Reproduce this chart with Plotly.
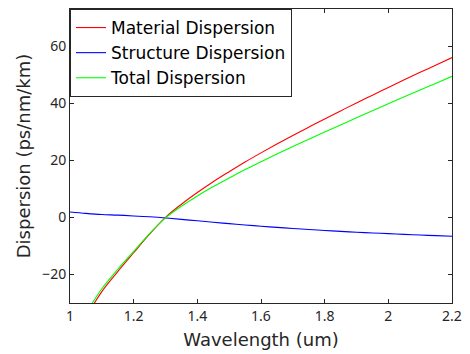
import plotly.graph_objects as go

wavelength = [1.0, 1.05, 1.1, 1.15, 1.2, 1.25, 1.3, 1.35, 1.4, 1.45, 1.5, 1.55, 1.6, 1.65, 1.7,
              1.75, 1.8, 1.85, 1.9, 1.95, 2.0, 2.05, 2.1, 2.15, 2.2]
material = [-45, -35, -26.0, -19.0, -12.4, -5.9, 0.0, 4.6, 8.7, 12.5, 16.0, 19.4, 22.6, 25.7, 28.7,
            31.6, 34.5, 37.3, 40.1, 42.8, 45.5, 48.2, 50.8, 53.4, 56.0]
structure = [1.9, 1.4, 1.0, 0.8, 0.5, 0.2, -0.2, -0.7, -1.2, -1.7, -2.2, -2.65, -3.1, -3.5, -3.9,
             -4.25, -4.6, -4.9, -5.2, -5.45, -5.7, -5.95, -6.2, -6.4, -6.6]
total = [-43.1, -33.6, -25.0, -18.2, -11.9, -5.7, -0.2, 3.9, 7.5, 10.8, 13.8, 16.75, 19.5, 22.2, 24.8,
         27.35, 29.9, 32.4, 34.9, 37.35, 39.8, 42.25, 44.6, 47.0, 49.4]

x_ticks = [1, 1.2, 1.4, 1.6, 1.8, 2, 2.2]
x_ticktext = ["1", "1.2", "1.4", "1.6", "1.8", "2", "2.2"]
y_ticks = [-20, 0, 20, 40, 60]
y_ticktext = ["\u221220", "0", "20", "40", "60"]

TICKFONT = "Noto Sans, sans-serif"
WIDEFONT = "DejaVu Sans, sans-serif"
AX = "#262626"

fig = go.Figure()
fig.add_trace(go.Scatter(x=wavelength, y=material, mode="lines", name="Material Dispersion",
                         line=dict(color="rgb(255,0,0)", width=1.1, shape="spline")))
fig.add_trace(go.Scatter(x=wavelength, y=structure, mode="lines", name="Structure Dispersion",
                         line=dict(color="rgb(0,0,255)", width=1.1, shape="spline")))
fig.add_trace(go.Scatter(x=wavelength, y=total, mode="lines", name="Total Dispersion",
                         line=dict(color="rgb(0,255,0)", width=1.1, shape="spline")))

fig.update_layout(
    width=470, height=354,
    margin=dict(l=70, r=15, t=8, b=51),
    paper_bgcolor="white", plot_bgcolor="white",
    font=dict(family=TICKFONT, color=AX),
    showlegend=True,
    legend=dict(x=0, y=1, xanchor="left", yanchor="top",
                bgcolor="white", bordercolor=AX, borderwidth=1,
                font=dict(family=WIDEFONT, size=17, color="black"),
                tracegroupgap=0, itemwidth=30),
    xaxis=dict(range=[1, 2.2], tickvals=x_ticks, ticktext=x_ticktext,
               ticks="inside", ticklen=4, tickcolor=AX, mirror="ticks",
               showline=True, linecolor=AX, linewidth=1, showgrid=False, zeroline=False,
               tickfont=dict(family=TICKFONT, size=14, color=AX),
               title=dict(text="Wavelength (um)", font=dict(family=WIDEFONT, size=18, color=AX), standoff=9)),
    yaxis=dict(range=[-30, 73], tickvals=y_ticks, ticktext=y_ticktext,
               ticks="inside", ticklen=4, tickcolor=AX, mirror="ticks",
               showline=True, linecolor=AX, linewidth=1, showgrid=False, zeroline=False,
               tickfont=dict(family=TICKFONT, size=14, color=AX),
               title=dict(text="Dispersion (ps/nm/km)", font=dict(family=WIDEFONT, size=18, color=AX), standoff=6)),
)

fig.write_html("out.html")
